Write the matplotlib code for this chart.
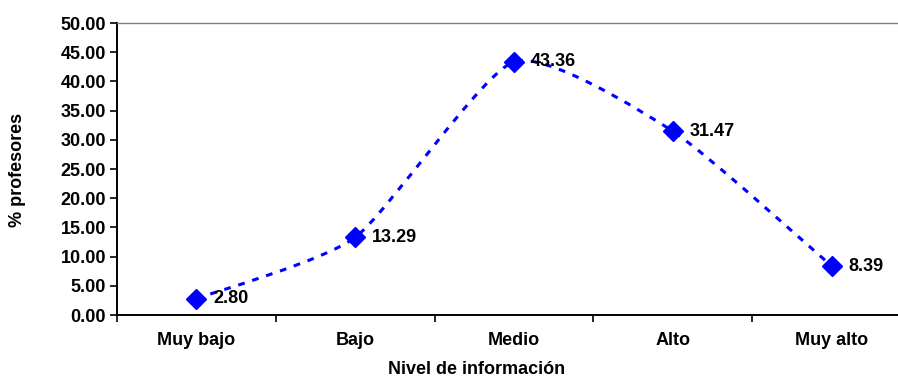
import matplotlib

matplotlib.use("Agg")
import matplotlib.pyplot as plt
from matplotlib.patches import PathPatch
from matplotlib.path import Path
from matplotlib.ticker import FixedLocator, MultipleLocator

categories = ["Muy bajo", "Bajo", "Medio", "Alto", "Muy alto"]
values = [2.80, 13.29, 43.36, 31.47, 8.39]

BLUE = "#0000FF"
TENSION = 1 / 10
plt.rcParams["font.family"] = ["Liberation Sans", "DejaVu Sans"]
plt.rcParams["font.weight"] = "bold"


def smooth_path(xs, ys, t=TENSION):
    # Bezier segments with neighbour-based control points (smoothed line)
    n = len(xs)
    verts = [(xs[0], ys[0])]
    codes = [Path.MOVETO]
    for i in range(n - 1):
        x0, y0 = (xs[i - 1], ys[i - 1]) if i > 0 else (xs[i], ys[i])
        x1, y1 = xs[i], ys[i]
        x2, y2 = xs[i + 1], ys[i + 1]
        x3, y3 = (xs[i + 2], ys[i + 2]) if i + 2 < n else (x2, y2)
        c1 = (x1 + (x2 - x0) * t, y1 + (y2 - y0) * t)
        c2 = (x2 - (x3 - x1) * t, y2 - (y3 - y1) * t)
        verts += [c1, c2, (x2, y2)]
        codes += [Path.CURVE4] * 3
    return Path(verts, codes)


fig = plt.figure(figsize=(8.98, 3.78), dpi=100)
ax = fig.add_axes([117 / 898, 1 - 315 / 378, 794 / 898, 292 / 378])

xs = list(range(len(categories)))
ax.add_patch(PathPatch(smooth_path(xs, values), fill=False, edgecolor=BLUE,
                       lw=2.2, linestyle=(0, (2.2, 2.6)), capstyle="butt",
                       zorder=2))
ax.plot(xs, values, linestyle="none", marker="D", ms=10, color=BLUE,
        markeredgecolor=BLUE, zorder=3)
for x, v in zip(xs, values):
    ax.annotate(f"{v:.2f}", (x, v), xytext=(12, 0), textcoords="offset points",
                va="center", ha="left", fontsize=13, fontweight="bold")

ax.set_xlim(-0.5, len(categories) - 0.5)
ax.set_ylim(0, 50)
ax.yaxis.set_major_locator(MultipleLocator(5))
ax.yaxis.set_major_formatter(lambda v, _: f"{v:.2f}")
ax.set_xticks(xs)
ax.set_xticklabels(categories)
ax.xaxis.set_minor_locator(FixedLocator([i - 0.5 for i in range(len(categories) + 1)]))
ax.tick_params(axis="x", which="major", length=0, pad=12, labelsize=13)
ax.tick_params(axis="x", which="minor", length=5, width=1.2, direction="out")
ax.tick_params(axis="y", length=5, width=1.2, direction="out", pad=3,
               labelsize=13)

for side in ("left", "bottom"):
    ax.spines[side].set_linewidth(1.4)
    ax.spines[side].set_color("black")
ax.spines["top"].set_color("#808080")
ax.spines["top"].set_linewidth(1.0)
ax.spines["right"].set_visible(False)

fig.text(18 / 898, 1 - 170 / 378, "% profesores", rotation=90, ha="center",
         va="center", fontsize=13, fontweight="bold")
fig.text(477 / 898, 1 - 369 / 378, "Nivel de información", ha="center",
         va="center", fontsize=13, fontweight="bold")

fig.savefig("out.png", dpi=100)
